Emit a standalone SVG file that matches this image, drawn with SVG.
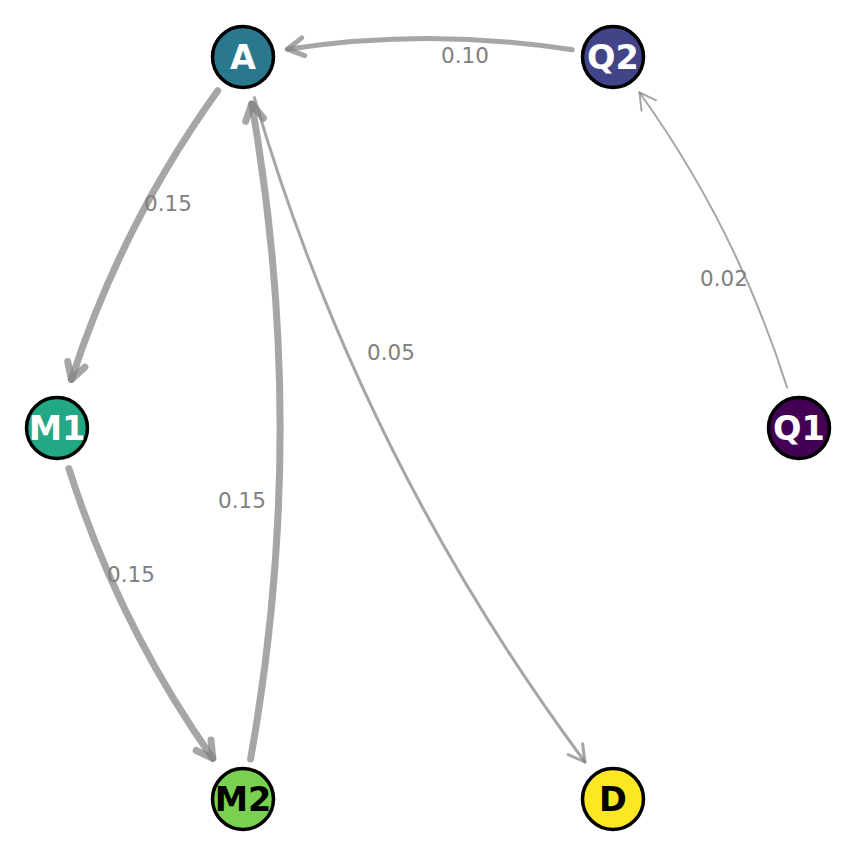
<svg xmlns="http://www.w3.org/2000/svg" width="855" height="856" viewBox="0 0 855 856">
<style>
.e{fill:none;stroke:#808080;stroke-opacity:0.7;stroke-linecap:round;stroke-linejoin:round}
.lbl{font-family:"DejaVu Sans",sans-serif;font-size:21.5px;fill:#808080;text-anchor:middle}
.node circle{stroke:#000;stroke-width:3.5}
.node text{font-family:"DejaVu Sans",sans-serif;font-weight:bold;font-size:33.5px;text-anchor:middle}
</style>
<rect width="855" height="856" fill="#fff"/>
<g id="connectors">
  <g id="e-Q2-A">
    <path class="e" stroke-width="5" d="M572.3,49.8 Q429.9,27.5 287.4,49.2"/>
    <path class="e" stroke-width="5" d="M304.6,55.7 L287.4,49.2 L301.8,37.9"/>
    <text class="lbl" x="465" y="63">0.10</text>
  </g>
  <g id="e-A-M1">
    <path class="e" stroke-width="7" d="M217.7,90.8 Q122.0,223.9 71.4,379.5"/>
    <path class="e" stroke-width="7" d="M84.9,367.1 L71.4,379.5 L67.7,361.5"/>
    <text class="lbl" x="168" y="211">0.15</text>
  </g>
  <g id="e-M1-M2">
    <path class="e" stroke-width="7" d="M68.9,468.5 Q118.4,624.7 212.8,758.4"/>
    <path class="e" stroke-width="7" d="M211,740.1 L212.8,758.4 L196.2,750.5"/>
    <text class="lbl" x="131" y="582">0.15</text>
  </g>
  <g id="e-M2-A">
    <path class="e" stroke-width="7" d="M250.6,759 Q309.0,431.5 251.8,104"/>
    <path class="e" stroke-width="7" d="M245.7,121.3 L251.8,104 L263.4,118.2"/>
    <text class="lbl" x="242" y="508">0.15</text>
  </g>
  <g id="e-A-D">
    <path class="e" stroke-width="3" d="M254.4,97.6 Q360.3,459.5 584.9,762.0"/>
    <path class="e" stroke-width="3" d="M582.6,743.8 L584.9,762.0 L568.2,754.6"/>
    <text class="lbl" x="391" y="360">0.05</text>
  </g>
  <g id="e-Q1-Q2">
    <path class="e" stroke-width="2" d="M787.1,387.6 Q736.8,228.2 639.5,92.5"/>
    <path class="e" stroke-width="2" d="M641.5,110.7 L639.5,92.5 L656.1,100.3"/>
    <text class="lbl" x="724" y="286">0.02</text>
  </g>
</g>
<g id="node-A" class="node"><circle cx="243" cy="57" r="30.5" fill="#2a788e"/><text x="243" y="69" fill="#fff">A</text></g>
<g id="node-Q2" class="node"><circle cx="613" cy="57" r="30.5" fill="#414487"/><text x="613" y="69" fill="#fff">Q2</text></g>
<g id="node-M1" class="node"><circle cx="57" cy="428" r="30.5" fill="#22a884"/><text x="57" y="440" fill="#fff">M1</text></g>
<g id="node-Q1" class="node"><circle cx="799" cy="428" r="30.5" fill="#440154"/><text x="799" y="440" fill="#fff">Q1</text></g>
<g id="node-M2" class="node"><circle cx="243" cy="799" r="30.5" fill="#7ad151"/><text x="243" y="811" fill="#000">M2</text></g>
<g id="node-D" class="node"><circle cx="613" cy="799" r="30.5" fill="#fde725"/><text x="613" y="811" fill="#000">D</text></g>
</svg>
